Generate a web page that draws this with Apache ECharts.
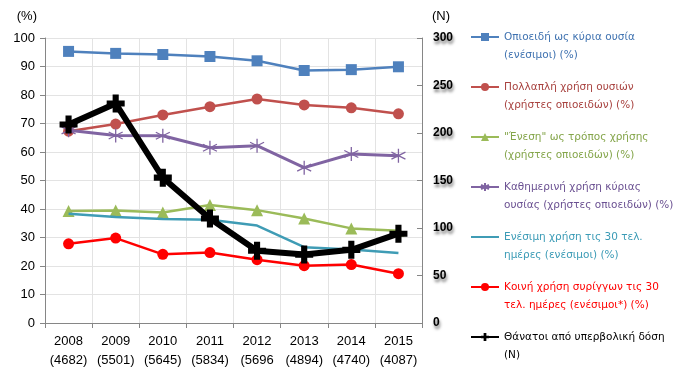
<!DOCTYPE html>
<html><head><meta charset="utf-8">
<script src="https://cdn.jsdelivr.net/npm/echarts@6/dist/echarts.min.js"></script>
<style>html,body{margin:0;padding:0;background:#fff}#c{width:678px;height:386px}</style>
</head><body><div id="c"></div>
<script>
var years = ['2008','2009','2010','2011','2012','2013','2014','2015'];
var sampleN = ['(4682)','(5501)','(5645)','(5834)','(5696','(4894)','(4740)','(4087)'];
var opioidMain = [95.3, 94.6, 94.2, 93.5, 92.0, 88.6, 88.9, 89.9];
var multiUse = [67.3, 69.8, 73.0, 75.9, 78.6, 76.5, 75.5, 73.4];
var injection = [39.3, 39.5, 38.8, 41.4, 39.6, 36.7, 33.2, 32.4];
var dailyUse = [67.6, 65.8, 65.7, 61.5, 62.2, 54.5, 59.3, 58.7];
var inject30 = [38.3, 37.2, 36.5, 36.2, 34.2, 26.6, 25.8, 24.6];
var sharing30 = [27.8, 29.8, 24.1, 24.7, 22.2, 20.1, 20.5, 17.3];
var deaths = [209, 231, 153, 110, 76, 72, 77, 94];
var legendLines = [
  ['Οπιοειδή ως κύρια ουσία', '(ενέσιμοι) (%)'],
  ['Πολλαπλή χρήση ουσιών', '(χρήστες οπιοειδών) (%)'],
  ['"Ένεση" ως τρόπος χρήσης', '(χρήστες οπιοειδών) (%)'],
  ['Καθημερινή χρήση κύριας', 'ουσίας (χρήστες οπιοειδών) (%)'],
  ['Ενέσιμη χρήση τις 30 τελ.', 'ημέρες (ενέσιμοι) (%)'],
  ['Κοινή χρήση συρίγγων τις 30', 'τελ. ημέρες (ενέσιμοι*) (%)'],
  ['Θάνατοι από υπερβολική δόση', '(N)']
];
var leftTicks = {min: 0, max: 100, interval: 10};
var rightTicks = {min: 0, max: 300, interval: 50};

var categories = years.map(function(y, i){ return y + '\n' + sampleN[i]; });
var names = legendLines.map(function(l){ return l.join(' '); });
var lineColors = ['#4F81BD', '#C0504D', '#9BBB59', '#8064A2', '#3F9CB5', '#FF0000', '#000000'];
var textColors = ['#3F72B0', '#A8423F', '#84A54A', '#6B5192', '#3B9BB6', '#FF0000', '#000000'];
var asterisk = 'path://M5 0 L5 10 M0.7 2.5 L9.3 7.5 M0.7 7.5 L9.3 2.5';
var plus = 'path://M3.3 0 L6.7 0 L6.7 3.3 L10 3.3 L10 6.7 L6.7 6.7 L6.7 10 L3.3 10 L3.3 6.7 L0 6.7 L0 3.3 L3.3 3.3 Z';

function mk(idx, data, opts) {
  var s = {
    name: names[idx], type: 'line', data: data, yAxisIndex: 0,
    symbol: 'circle', symbolSize: 10,
    lineStyle: {color: lineColors[idx], width: 2.5},
    itemStyle: {color: lineColors[idx]},
    z: 2 + idx
  };
  for (var k in opts) s[k] = opts[k];
  return s;
}

var series = [
  mk(0, opioidMain, {symbol: 'rect', symbolSize: 11}),
  mk(1, multiUse, {symbol: 'circle', symbolSize: 11}),
  mk(2, injection, {symbol: 'triangle', symbolSize: 12}),
  mk(3, dailyUse, {symbol: asterisk, symbolSize: 14, lineStyle: {color: lineColors[3], width: 3},
     itemStyle: {color: lineColors[3], borderColor: lineColors[3], borderWidth: 1.3}}),
  mk(4, inject30, {symbol: 'none'}),
  mk(5, sharing30, {symbol: 'circle', symbolSize: 11}),
  mk(6, deaths, {yAxisIndex: 1, symbol: plus, symbolSize: 18, lineStyle: {color: '#000', width: 6}, z: 20})
];

var legendData = names.map(function(n, i){
  var d = {name: n, textStyle: {color: textColors[i]}};
  if (i === 4) d.itemStyle = {opacity: 0};
  return d;
});

var chart = echarts.init(document.getElementById('c'), null, {renderer: 'canvas'});
chart.setOption({
  animation: false,
  backgroundColor: '#fff',
  grid: {left: 45, right: 256, top: 38, bottom: 63, containLabel: false},
  legend: {
    orient: 'vertical', left: 470, top: 10, padding: 0,
    itemWidth: 28, itemHeight: 10, itemGap: -4,
    data: legendData,
    formatter: function(n){ var i = names.indexOf(n); return ' \n' + legendLines[i].join('\n'); },
    textStyle: {fontFamily: 'DejaVu Sans', fontSize: 10.5, lineHeight: 18, padding: [0,0,0,0]}
  },
  xAxis: {
    type: 'category', data: categories, boundaryGap: true,
    axisLine: {lineStyle: {color: '#868686', width: 1}},
    axisTick: {show: true, inside: false, length: 5, lineStyle: {color: '#868686'}},
    axisLabel: {color: '#000', fontFamily: 'Liberation Sans', fontSize: 13, lineHeight: 19, margin: 9, interval: 0},
    splitLine: {show: true, lineStyle: {color: '#E3E3E3', width: 1}}
  },
  yAxis: [{
    type: 'value', min: leftTicks.min, max: leftTicks.max, interval: leftTicks.interval, position: 'left',
    name: '(%)', nameLocation: 'end', nameGap: 15,
    nameTextStyle: {color: '#000', fontFamily: 'Liberation Sans', fontSize: 13, align: 'right', padding: [0, 8, 0, 0]},
    axisLine: {show: true, lineStyle: {color: '#868686'}},
    axisTick: {show: true, inside: false, length: 5, lineStyle: {color: '#868686'}},
    axisLabel: {color: '#000', fontFamily: 'Liberation Sans', fontSize: 13, margin: 10},
    splitLine: {show: true, lineStyle: {color: '#E3E3E3', width: 1}}
  }, {
    type: 'value', min: rightTicks.min, max: rightTicks.max, interval: rightTicks.interval, position: 'right',
    name: '(N)', nameLocation: 'end', nameGap: 15,
    nameTextStyle: {color: '#000', fontFamily: 'Liberation Sans', fontSize: 13, align: 'left', padding: [0, 0, 0, 10]},
    axisLine: {show: true, lineStyle: {color: '#868686'}},
    axisTick: {show: true, inside: true, length: 5, lineStyle: {color: '#868686'}},
    axisLabel: {color: '#000', fontFamily: 'Liberation Sans', fontSize: 12, fontWeight: 'bold', margin: 11,
      textShadowColor: 'rgba(0,0,0,0.55)', textShadowBlur: 3, textShadowOffsetX: 1, textShadowOffsetY: 3},
    splitLine: {show: false}
  }],
  series: series
});
</script></body></html>
